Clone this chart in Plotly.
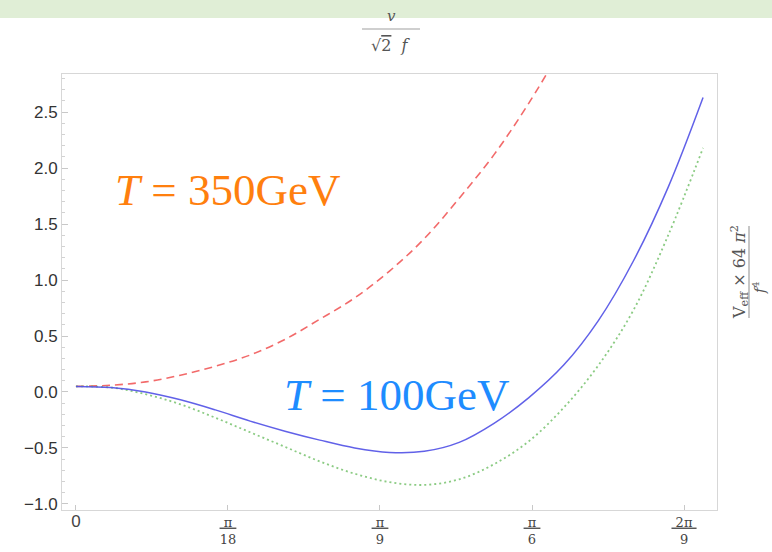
import math
import plotly.graph_objects as go

# Field value v/(sqrt(2) f), sampled along the curves
phi = [0.00, 0.04, 0.08, 0.12, 0.16, 0.20, 0.24, 0.28, 0.32, 0.36,
       0.40, 0.44, 0.48, 0.52, 0.56, 0.60, 0.64, 0.68, 0.72]

# Effective potential V_eff * 64 pi^2 / f^4
v_350 = [0.05, 0.06, 0.09, 0.15, 0.23, 0.33, 0.47, 0.65, 0.84, 1.08,
         1.37, 1.73, 2.12, 2.58, 3.10]
v_100 = [0.05, 0.04, 0.00, -0.07, -0.16, -0.26, -0.35, -0.43, -0.50, -0.54,
         -0.53, -0.45, -0.28, -0.05, 0.24, 0.64, 1.17, 1.83, 2.63]
v_100b = [0.05, 0.04, -0.02, -0.11, -0.23, -0.36, -0.49, -0.62, -0.73, -0.805,
          -0.83, -0.78, -0.645, -0.44, -0.14, 0.24, 0.73, 1.40, 2.18]

x_ticks = [0, math.pi / 18, math.pi / 9, math.pi / 6, 2 * math.pi / 9]
x_tick_num = ["", "π", "π", "π", "2π"]
x_tick_den = ["", "18", "9", "6", "9"]
y_ticks = [-1.0, -0.5, 0.0, 0.5, 1.0, 1.5, 2.0, 2.5]

label_hot = "<i>T</i> = 350GeV"
label_cold = "<i>T</i> = 100GeV"

W, H = 772, 552
L, R, T, B = 62, 55, 74, 42
PW, PH = W - L - R, H - T - B


def px(x):
    return (x - L) / PW


def py(y):
    return 1 - (y - T) / PH


fig = go.Figure()
fig.add_trace(go.Scatter(x=phi[:len(v_350)], y=v_350, mode="lines",
                         line=dict(color="rgba(240,80,80,0.85)", width=1.6, dash="8px,5px", shape="spline"),
                         showlegend=False))
fig.add_trace(go.Scatter(x=phi, y=v_100b, mode="lines",
                         line=dict(color="rgba(110,190,100,0.8)", width=1.8, dash="2px,3px", shape="spline"),
                         showlegend=False))
fig.add_trace(go.Scatter(x=phi, y=v_100, mode="lines",
                         line=dict(color="rgba(80,80,230,0.9)", width=1.5, shape="spline"),
                         showlegend=False))

tick_text = []
for num, den in zip(x_tick_num, x_tick_den):
    if num:
        tick_text.append("<span style='text-decoration:underline'>&nbsp;" + num + "&nbsp;</span><br>" + den)
    else:
        tick_text.append("<span style='font-family:Liberation Sans;font-size:17px'>0</span>")

axis_line = "rgb(215,215,215)"
fig.update_xaxes(range=[-0.016, 0.736], tickvals=x_ticks, ticktext=tick_text,
                 ticks="inside", ticklen=5, tickcolor="rgb(200,200,200)",
                 showgrid=False, zeroline=False, showline=True, linecolor=axis_line,
                 mirror=True, linewidth=1, automargin=False,
                 tickfont=dict(family="DejaVu Serif", size=13, color="#444"))
fig.update_yaxes(range=[-1.054, 2.84], tickvals=y_ticks,
                 ticktext=[f"{v:.1f}".replace("-", "\u2212") for v in y_ticks],
                 ticks="inside", ticklen=6, tickcolor="rgb(200,200,200)",
                 minor=dict(dtick=0.1, ticks="inside", ticklen=3, tickcolor="rgb(210,210,210)"),
                 showgrid=False, zeroline=False, showline=True, linecolor=axis_line,
                 mirror=True, linewidth=1, automargin=False,
                 tickfont=dict(family="Liberation Sans", size=17, color="#333"))

shapes = [
    # pale band along the top of the page
    dict(type="rect", xref="paper", yref="paper", x0=px(0), x1=px(W), y0=py(18), y1=py(0),
         fillcolor="rgb(224,238,214)", line=dict(width=0), layer="below"),
    # fraction bar of the top axis label
    dict(type="line", xref="paper", yref="paper", x0=px(362), x1=px(420), y0=py(29), y1=py(29),
         line=dict(color="rgb(160,160,160)", width=1.2)),
    # fraction bar of the right axis label
    dict(type="line", xref="paper", yref="paper", x0=px(749), x1=px(749), y0=py(226), y1=py(318),
         line=dict(color="rgb(160,160,160)", width=1.2)),
]

ann = [
    dict(text="<i>v</i>", x=px(391), y=py(16), size=15),
    dict(text="√<span style='text-decoration:overline'>2</span>&nbsp;&nbsp;<i>f</i>", x=px(391), y=py(45), size=16),
    dict(text="V<sub>eff</sub> × 64 <i>π</i><sup>2</sup>", x=px(739), y=py(272), textangle=-90, size=16),
    dict(text="<i>f</i><sup>4</sup>", x=px(759), y=py(288), textangle=-90, size=14),
]
annotations = []
for a in ann:
    size = a.pop("size")
    a.update(xref="paper", yref="paper", showarrow=False,
             font=dict(family="DejaVu Serif", size=size, color="#555"),
             xanchor="center", yanchor="middle")
    annotations.append(a)

annotations.append(dict(text=label_hot, x=math.pi / 18, y=1.80, xref="x", yref="y",
                        showarrow=False, xanchor="center", yanchor="middle",
                        font=dict(family="Liberation Serif", size=45, color="rgb(255,127,14)")))
annotations.append(dict(text=label_cold, x=0.3686, y=-0.03, xref="x", yref="y",
                        showarrow=False, xanchor="center", yanchor="middle",
                        font=dict(family="Liberation Serif", size=45, color="rgb(30,140,255)")))

fig.update_layout(width=W, height=H, margin=dict(l=L, r=R, t=T, b=B),
                  paper_bgcolor="white", plot_bgcolor="white",
                  shapes=shapes, annotations=annotations, showlegend=False)

fig.write_html("out.html")
